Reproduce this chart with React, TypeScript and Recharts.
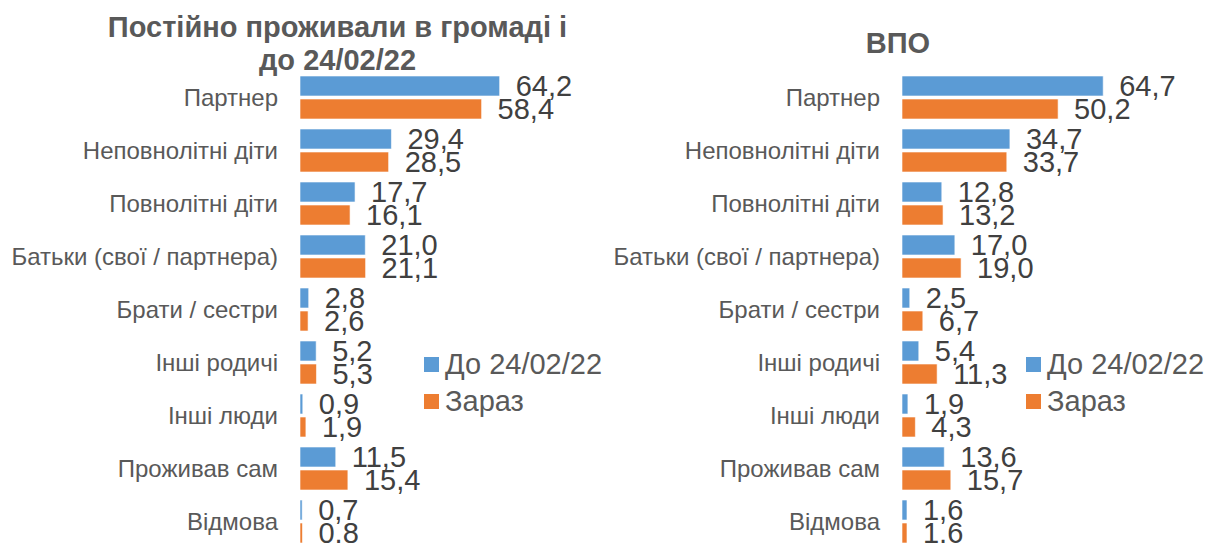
import React from 'react';
import { BarChart, Bar, XAxis, YAxis, LabelList, Legend } from 'recharts';

const categories = [
    'Партнер',
    'Неповнолітні діти',
    'Повнолітні діти',
    'Батьки (свої / партнера)',
    'Брати / сестри',
    'Інші родичі',
    'Інші люди',
    'Проживав сам',
    'Відмова',
];

// Постійно проживали в громаді
const residentsBefore = [64.2, 29.4, 17.7, 21.0, 2.8, 5.2, 0.9, 11.5, 0.7];
const residentsNow = [58.4, 28.5, 16.1, 21.1, 2.6, 5.3, 1.9, 15.4, 0.8];

// ВПО
const idpBefore = [64.7, 34.7, 12.8, 17.0, 2.5, 5.4, 1.9, 13.6, 1.6];
const idpNow = [50.2, 33.7, 13.2, 19.0, 6.7, 11.3, 4.3, 15.7, 1.6];

const seriesNames = ['До 24/02/22', 'Зараз'];

const BLUE = '#5B9BD5';
const ORANGE = '#ED7D31';
const FONT = '"Liberation Sans", Arial, sans-serif';

const fmt = (v: any) => Number(v).toFixed(1).replace('.', ',');

const renderLegend = (props: any) => (
    <div style={{ fontFamily: FONT }}>
        {(props.payload || []).map((entry: any) => (
            <div key={entry.value} style={{ display: 'flex', alignItems: 'center', height: 37 }}>
                <span style={{ width: 15, height: 15, background: entry.color, marginRight: 6, flexShrink: 0 }} />
                <span style={{ fontSize: 29, color: '#595959', whiteSpace: 'nowrap' }}>{entry.value}</span>
            </div>
        ))}
    </div>
);

function Panel({ before, now }: { before: number[]; now: number[] }) {
    const data = categories.map((name, i) => ({ name, before: before[i], now: now[i] }));

    return (
        <BarChart
            width={611}
            height={560}
            data={data}
            layout="vertical"
            margin={{ top: 71, right: 0, bottom: 12, left: 0 }}
            barSize={20}
            barGap={3}
        >
            <XAxis type="number" hide domain={[0, 100]} allowDataOverflow />
            <YAxis
                type="category"
                dataKey="name"
                width={300}
                axisLine={false}
                tickLine={false}
                tickSize={0}
                tickMargin={22}
                interval={0}
                tick={{ fill: '#595959', fontSize: 24, fontFamily: FONT }}
            />
            <Legend
                layout="vertical"
                align="center"
                verticalAlign="middle"
                content={renderLegend}
                wrapperStyle={{ left: 424, top: 346, width: 220 }}
            />
            <Bar dataKey="before" name={seriesNames[0]} fill={BLUE} stroke="#fff" strokeWidth={0.6} isAnimationActive={false}>
                <LabelList dataKey="before" position="right" offset={16} formatter={fmt} fill="#404040" fontSize={29} fontFamily={FONT} />
            </Bar>
            <Bar dataKey="now" name={seriesNames[1]} fill={ORANGE} stroke="#fff" strokeWidth={0.6} isAnimationActive={false}>
                <LabelList dataKey="now" position="right" offset={16} formatter={fmt} fill="#404040" fontSize={29} fontFamily={FONT} />
            </Bar>
        </BarChart>
    );
}

const titleStyle: React.CSSProperties = {
    position: 'absolute',
    textAlign: 'center',
    fontFamily: FONT,
    fontWeight: 'bold',
    fontSize: 29,
    lineHeight: '33px',
    color: '#595959',
};

export default function App() {
    return (
        <div style={{ position: 'absolute', left: 0, top: 0, width: 1210, height: 543, overflow: 'hidden', background: '#fff' }}>
            <div style={{ position: 'absolute', left: 0, top: 0 }}>
                <Panel before={residentsBefore} now={residentsNow} />
            </div>
            <div style={{ position: 'absolute', left: 602, top: 0 }}>
                <Panel before={idpBefore} now={idpNow} />
            </div>
            <div style={{ ...titleStyle, left: 0, top: 11, width: 675 }}>
                Постійно проживали в громаді і
                <br />
                до 24/02/22
            </div>
            <div style={{ ...titleStyle, left: 798, top: 27, width: 200 }}>ВПО</div>
        </div>
    );
}
